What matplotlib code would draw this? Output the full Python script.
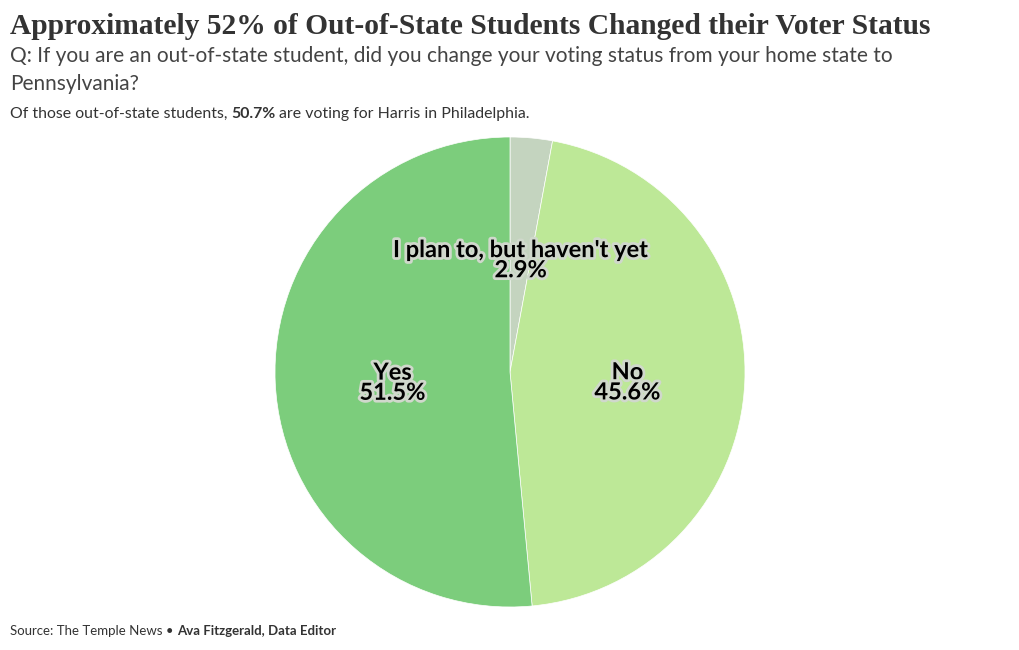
import numpy as np
import matplotlib.pyplot as plt
import matplotlib.patheffects as pe

labels = ["I plan to, but haven't yet", "No", "Yes"]
values = [2.9, 45.6, 51.5]
colors = ["#c4d4bf", "#bde897", "#7ccd7c"]

title = "Approximately 52% of Out-of-State Students Changed their Voter Status"
subtitle = "Q: If you are an out-of-state student, did you change your voting status from your home state to\nPennsylvania?"
source = "Source: The Temple News"
credit = "Ava Fitzgerald, Data Editor"

W, H = 1020, 650
fig = plt.figure(figsize=(W / 100, H / 100), dpi=100)
fig.patch.set_facecolor("white")

cx, cy, r = 510, 372, 235
ax = fig.add_axes([(cx - r) / W, (H - cy - r) / H, 2 * r / W, 2 * r / H])
wedges, _ = ax.pie(values, colors=colors, startangle=90, counterclock=False,
                   wedgeprops=dict(linewidth=0.5, edgecolor="white"), radius=1)
ax.set_xlim(-1, 1)
ax.set_ylim(-1, 1)
ax.set_aspect("equal")
ax.axis("off")

halo = [pe.withStroke(linewidth=4, foreground="#d0d8cc")]
for w, lab, v in zip(wedges, labels, values):
    ang = np.deg2rad((w.theta1 + w.theta2) / 2)
    x, y = 0.5 * np.cos(ang), 0.5 * np.sin(ang)
    ax.text(x, y - 0.02, f"{lab}\n{v}%", ha="center", va="center", fontsize=17,
            fontweight="bold", family="Lato", color="black", linespacing=0.85,
            path_effects=halo)

# title fitted to the reference width
tt = fig.text(10 / W, 1 - 26 / H, title, fontsize=20, fontweight="bold", family="Liberation Serif",
              color="#333333", va="center", ha="left")
fig.canvas.draw()
tw = tt.get_window_extent().width
tt.set_fontsize(20 * 920 / tw)

fig.text(10 / W, 1 - 70 / H, subtitle, fontsize=15, family="Lato", color="#444444",
         va="center", ha="left", linespacing=1.45)

ny = 1 - 114 / H
t = fig.text(10 / W, ny, "Of those out-of-state students, ", fontsize=11.4, family="Lato",
             color="#333333", va="center", ha="left")
fig.canvas.draw()
bb = t.get_window_extent()
t2 = fig.text(bb.x1 / W, ny, "50.7%", fontsize=11.4, family="Lato", fontweight="bold",
              color="#333333", va="center", ha="left")
fig.canvas.draw()
bb2 = t2.get_window_extent()
fig.text((bb2.x1 + 3) / W, ny, "are voting for Harris in Philadelphia.", fontsize=11.4,
         family="Lato", color="#333333", va="center", ha="left")

sy = 1 - 631 / H
s = fig.text(10 / W, sy, source + " \u2022 ", fontsize=9.5, family="Lato",
             color="#333333", va="center", ha="left")
fig.canvas.draw()
sb = s.get_window_extent()
fig.text(sb.x1 / W, sy, credit, fontsize=9.5, family="Lato", fontweight="bold",
         color="#333333", va="center", ha="left")

fig.savefig("out.png", dpi=100)
